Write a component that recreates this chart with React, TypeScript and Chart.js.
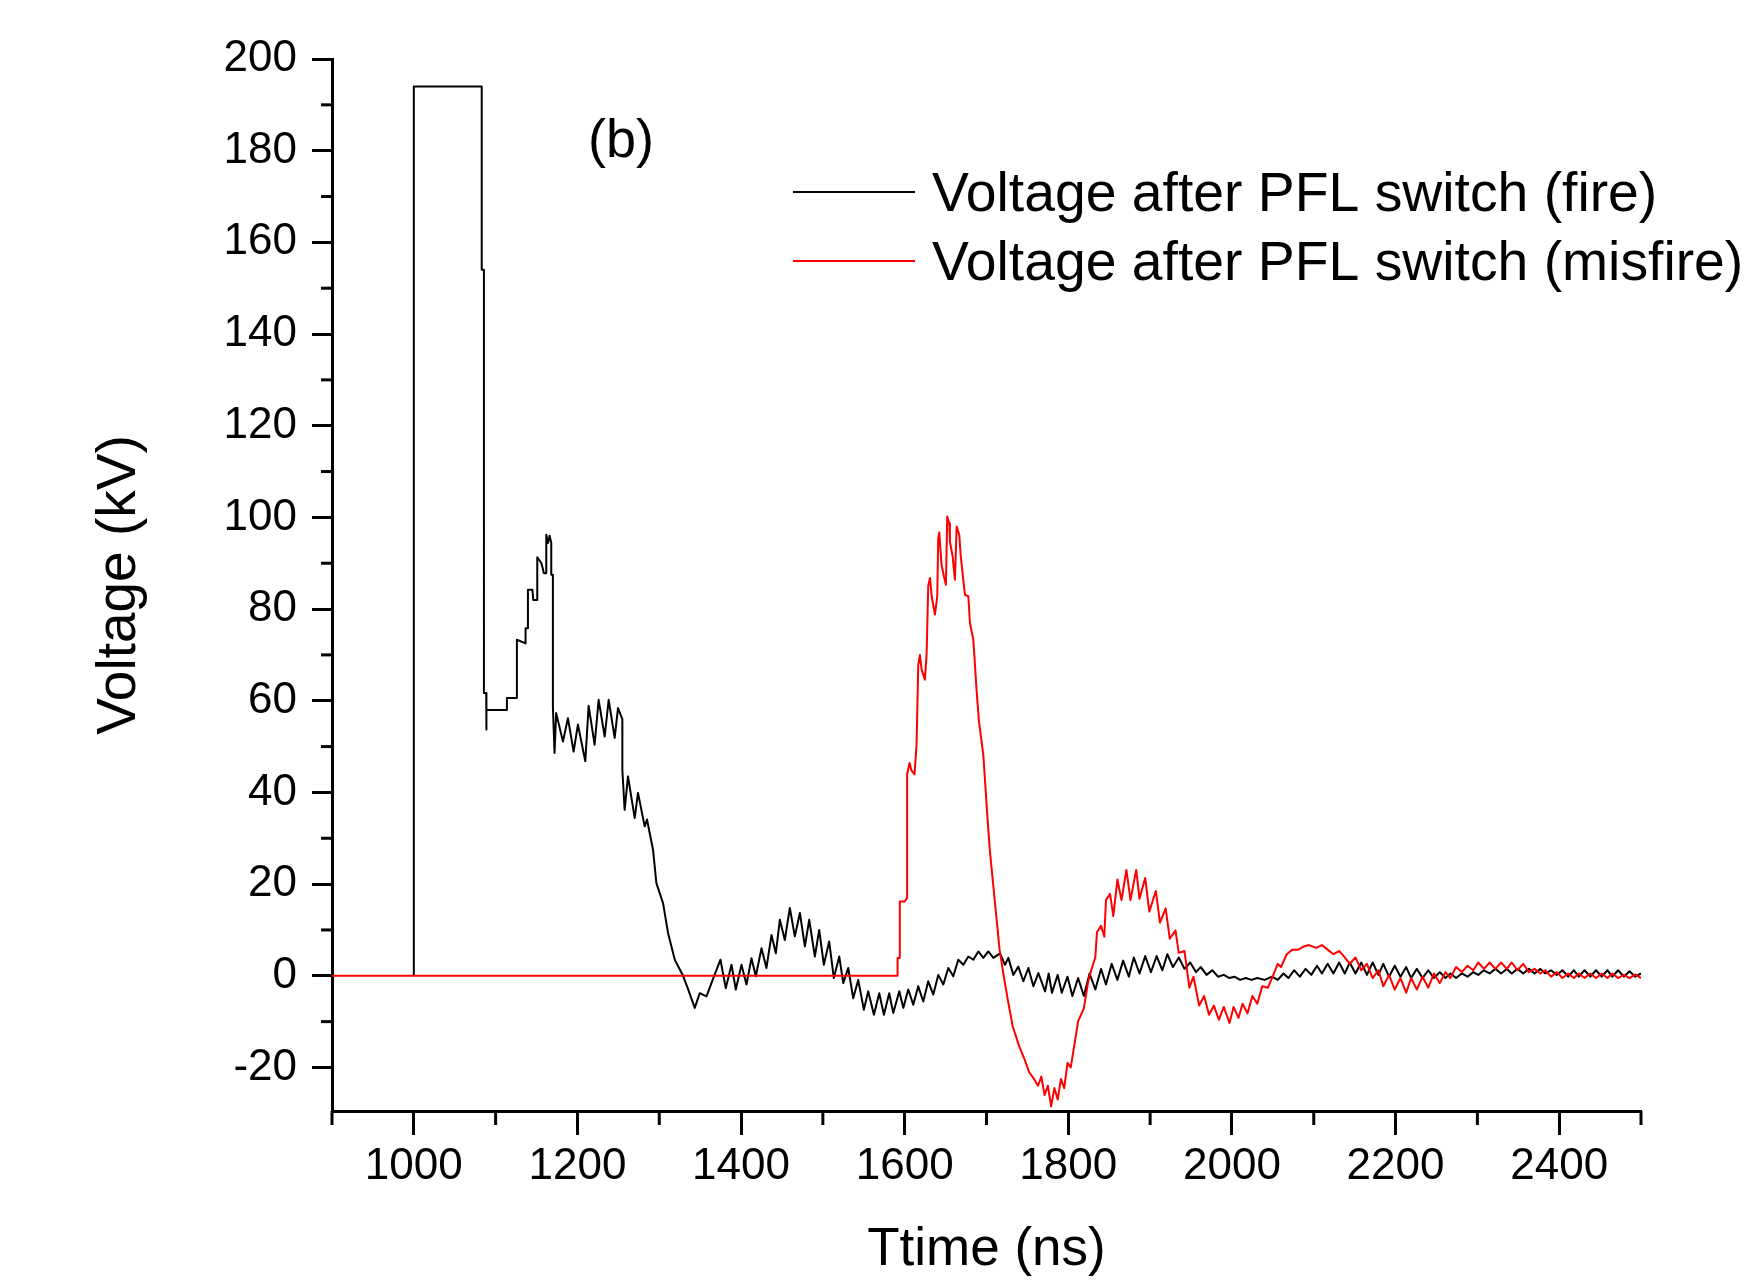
import React, { useEffect, useRef } from 'react';
import { Chart, registerables } from 'chart.js';

Chart.register(...registerables);

// ---- Data ----
const fireTime = [
  1000, 1000, 1083, 1083, 1085.7, 1085.7, 1088.5, 1088.5, 1089, 1113.8, 1113.8, 1126, 1126, 1136.6, 1136.6, 1139.5, 1139.5,
  1145, 1146, 1150.9, 1150.9, 1156, 1159, 1161.9, 1161.9, 1164, 1166, 1168, 1168, 1170, 1170, 1172, 1174, 1182.3, 1188.4,
  1195.3, 1200.6, 1209.6, 1213.7, 1221, 1225.9, 1233.3, 1238.2, 1245.5, 1249.6, 1254.9, 1254.9, 1257.7, 1261.8, 1270, 1274,
  1282.2, 1285, 1292.4, 1296.5, 1304.7, 1310.8, 1319, 1329.1, 1334, 1343.4, 1349.5, 1357.7, 1363.8, 1374.8, 1381.3, 1388.3,
  1393.6, 1400.5, 1406.6, 1412.7, 1418, 1425, 1431, 1437.2, 1442.5, 1447.4, 1453.5, 1459.6, 1465.7, 1471.9, 1478, 1483.3,
  1490.2, 1495.5, 1501.2, 1507.7, 1513.4, 1520, 1524.9, 1531, 1537.1, 1543.2, 1550.1, 1555.4, 1562.4, 1568.9, 1574.6, 1581.1,
  1586, 1593.4, 1598.3, 1604.4, 1610.5, 1616.6, 1622.7, 1628.8, 1635, 1641.1, 1647.2, 1653.3, 1659.4, 1665.5, 1671.7, 1677.8,
  1683.9, 1690, 1696.1, 1702.2, 1708.4, 1716.5, 1722.6, 1726.7, 1732.8, 1738.9, 1745, 1751.2, 1757.3, 1763.4, 1771.6, 1776,
  1780, 1787, 1792, 1799, 1805, 1812, 1819, 1826, 1833, 1840, 1846, 1853, 1860, 1867, 1874, 1880, 1887, 1894, 1901, 1908,
  1915, 1921, 1928, 1935, 1942, 1949, 1956, 1962, 1969, 1976, 1983, 1990, 1997, 2003, 2010, 2017, 2024, 2031, 2040, 2049,
  2056, 2063, 2069, 2076, 2083, 2090, 2097, 2104, 2110, 2117, 2124, 2131, 2138, 2144, 2151, 2158, 2165, 2172, 2179, 2185,
  2192, 2199, 2206, 2213, 2219, 2226, 2233, 2240, 2247, 2254, 2261, 2267, 2274, 2281, 2288, 2295, 2301, 2308, 2315, 2322,
  2329, 2336, 2342, 2349, 2356, 2363, 2370, 2377, 2383, 2390, 2397, 2404, 2411, 2418, 2424, 2431, 2438, 2445, 2452, 2459,
  2465, 2472, 2479, 2486, 2493, 2500,
];
const fireVolt = [
  0, 194, 194, 154, 154, 61.7, 61.7, 53.7, 58, 58, 60.6, 60.6, 73.3, 72.5, 75.8, 75.8, 84.2,
  84.2, 82, 82, 91.3, 90, 87.8, 87.8, 96.2, 94.4, 96, 94.4, 87.5, 87.5, 58.7, 48.6, 57.3, 51.1, 56.2,
  48.9, 54.8, 46.8, 58.9, 50.4, 60.2, 52.2, 60.2, 51.9, 58.4, 56, 44.9, 36.2, 43.5, 34.4, 39.9,
  32.6, 34.1, 27.5, 20.2, 15.8, 9.3, 3.5, 0, -2.3, -7.0, -3.8, -4.5, -1.6, 3.5, -2.7, 2.4,
  -3.0, 2.4, -1.9, 3.8, -0.1, 6.0, 1.7, 8.9, 4.9, 12.2, 7.8, 14.8, 8.6, 13.7, 6.4, 12.2,
  4.2, 10.0, 2.4, 7.5, -0.5, 4.2, -1.6, 1.7, -4.9, -0.9, -7.4, -3.4, -8.5, -3.8, -8.5, -3.8,
  -8.1, -3.4, -7.0, -3.0, -6.3, -2.3, -5.6, -1.2, -4.1, 0.2, -1.9, 1.7, -0.1, 3.5, 2.4, 4.2,
  3.5, 5.3, 3.9, 5.3, 3.9, 4.9, 2.4, 3.9, 0.2, 2.0, -1.2, 1.7, -2.3, 0.6, -3.4, 0.5,
  -3.7, 0.2, -3.7, -0.2, -4.4, -0.5, -4.4, 0.5, -3.0, 1.5, -1.9, 2.6, -0.9, 3.3, -0.2, 4.0, 0.5, 4.3, 0.8, 4.3,
  1.2, 4.7, 1.9, 4.0, 1.5, 2.9, 0.8, 1.9, 0.2, 1.2, -0.2, 0.2, -0.5, -0.2, -0.9, -0.5, -0.9, -0.5, -0.9, -0.2,
  -0.9, 0.5, -0.5, 1.2, -0.2, 1.5, 0.2, 2.2, 0.5, 2.6, 0.5, 2.9, 0.5, 2.9, 0.5, 2.9, 0.2, 2.9, 0.2, 2.6,
  -0.2, 2.2, -0.2, 1.9, -0.5, 1.5, -0.5, 1.2, -0.5, 0.8, -0.5, 0.5, -0.5, 0.5, -0.2, 0.8, 0.2, 1.2, 0.5, 1.5,
  0.5, 1.5, 0.5, 1.5, 0.5, 1.5, 0.5, 1.5, 0.5, 1.2, 0.2, 1.2, -0.2, 1.2, -0.2, 1.2, -0.2, 1.2, -0.2, 1.2,
  -0.2, 1.2, -0.2, 1.0, -0.2, 0.5,
];

const misfireTime = [
  900, 1591.3, 1591.3, 1594, 1594, 1600, 1603, 1603, 1606, 1608, 1612, 1614.5, 1616.6, 1618.6, 1620.7, 1624.7, 1626.8,
  1628.8, 1630.9, 1633, 1637, 1639.8, 1641, 1642.3, 1645, 1648, 1650.4, 1652, 1654.5, 1655.3, 1658.6, 1661.4, 1663.5,
  1666.7, 1668.4, 1671.6, 1673.7, 1677.8, 1679.8, 1683.9, 1686, 1688, 1690.8, 1693.2, 1696.1, 1698, 1701, 1704, 1708,
  1712, 1716, 1721, 1726, 1732, 1740, 1746, 1752, 1758, 1763, 1767, 1771, 1775, 1779, 1783, 1787, 1791, 1795, 1799, 1803,
  1808, 1812, 1819, 1824, 1828, 1833, 1835, 1840, 1844, 1846, 1851, 1855, 1860, 1865, 1871, 1876, 1883, 1887, 1894, 1899,
  1907, 1912, 1919, 1924, 1931, 1935, 1942, 1948, 1953, 1960, 1966, 1972, 1978, 1984, 1990, 1997, 2002, 2008, 2013, 2019,
  2025, 2031, 2037, 2044, 2049, 2056, 2060, 2067, 2074, 2081, 2088, 2094, 2103, 2110, 2117, 2124, 2131, 2138, 2144, 2151,
  2158, 2165, 2172, 2179, 2185, 2192, 2199, 2206, 2213, 2219, 2226, 2233, 2240, 2247, 2254, 2261, 2267, 2274, 2281, 2288,
  2295, 2301, 2308, 2315, 2322, 2329, 2336, 2342, 2349, 2356, 2363, 2370, 2377, 2383, 2390, 2397, 2404, 2411, 2418, 2424,
  2431, 2438, 2445, 2452, 2459, 2465, 2472, 2479, 2486, 2493, 2500,
];
const misfireVolt = [
  0, 0, 3.9, 3.9, 16.2, 16.2, 17, 44, 46.4, 44.9, 43.9, 50.4, 67.8, 70, 66.8, 64.6, 70.2,
  85.1, 86.8, 82.8, 78.8, 82.8, 95.5, 96.7, 89.7, 87.1, 85.3, 100.2, 98.7, 94.7, 91.5, 86.4, 98,
  96.2, 91.8, 86.4, 83.1, 82.8, 76.9, 73.3, 67.5, 62, 55.5, 52.2, 48.2, 43.1, 35, 27.5, 20.2,
  12.9, 5.7, 0, -5.2, -11, -15.4, -18, -21, -22.5, -24, -22, -26, -24, -28.5, -24.5, -27, -22.5, -24.5, -19, -20,
  -14.4, -9.9, -7.1, -1.6, 1.2, 4.0, 9.5, 10.9, 8.5, 16.5, 17.9, 13.0, 21.0, 16.5, 23.1, 16.5, 23.1, 16.8, 21.3, 14.0,
  18.5, 11.6, 14.7, 8.1, 9.9, 5.0, 5.4, -2.6, -0.2, -6.5, -4.4, -8.5, -6.5, -9.6, -6.8, -10.3, -6.8, -9.2, -6.1, -8.2,
  -4.4, -6.1, -2.3, -2.6, -0.5, 2.6, 1.9, 4.7, 5.7, 5.7, 6.4, 6.7, 6.1, 6.7, 5.7, 4.7, 5.4, 4.0, 2.6, 4.0,
  1.2, 2.6, -0.5, 1.2, -2.3, 0.2, -3.0, -0.5, -3.7, -0.5, -3.0, -0.2, -2.6, 0.5, -1.6, 0.8, -0.5, 1.9, 0.8, 2.2,
  1.2, 2.9, 1.5, 2.9, 1.5, 2.9, 1.5, 2.9, 1.2, 2.6, 0.8, 1.5, 0.5, 1.2, -0.2, 0.8, -0.5, 0.5, -0.5, 0.5,
  -0.5, 0.5, -0.5, 0.5, -0.5, 0.5, -0.5, 0.2, -0.5, 0.3, -0.5,
];

const xMajorTicks = [1000, 1200, 1400, 1600, 1800, 2000, 2200, 2400];
const xMinorTicks = [900, 1100, 1300, 1500, 1700, 1900, 2100, 2300, 2500];
const yMajorTicks = [-20, 0, 20, 40, 60, 80, 100, 120, 140, 160, 180, 200];
const yMinorTicks = [-10, 10, 30, 50, 70, 90, 110, 130, 150, 170, 190];
const seriesLabels = ['Voltage after PFL switch (fire)', 'Voltage after PFL switch (misfire)'];
const seriesColors = ['#000000', '#ff0000'];
const panelLabel = '(b)';
const xTitle = 'Ttime (ns)';
const yTitle = 'Voltage (kV)';

const FONT = '"Liberation Sans", Arial, sans-serif';

const decorPlugin = {
  id: 'decor',
  afterDraw(chart: any) {
    const { ctx, chartArea, scales } = chart;
    const xs = scales.x;
    const ys = scales.y;
    ctx.save();
    ctx.strokeStyle = '#000';
    ctx.lineWidth = 3;
    ctx.lineCap = 'butt';
    yMinorTicks.forEach((v) => {
      const py = ys.getPixelForValue(v);
      ctx.beginPath();
      ctx.moveTo(chartArea.left - 11, py);
      ctx.lineTo(chartArea.left, py);
      ctx.stroke();
    });
    xMinorTicks.forEach((v) => {
      const px = xs.getPixelForValue(v);
      ctx.beginPath();
      ctx.moveTo(px, chartArea.bottom);
      ctx.lineTo(px, chartArea.bottom + 14);
      ctx.stroke();
    });
    // panel label
    ctx.fillStyle = '#000';
    ctx.font = `54px ${FONT}`;
    ctx.textAlign = 'left';
    ctx.textBaseline = 'alphabetic';
    ctx.fillText(panelLabel, 588, 157);
    // legend
    ctx.font = `55.3px ${FONT}`;
    seriesLabels.forEach((lab, i) => {
      const ly = 192 + i * 69;
      ctx.strokeStyle = seriesColors[i];
      ctx.lineWidth = 2;
      ctx.beginPath();
      ctx.moveTo(793, ly);
      ctx.lineTo(915, ly);
      ctx.stroke();
      ctx.fillStyle = '#000';
      ctx.fillText(lab, 932, 211 + i * 69);
    });
    ctx.restore();
  },
};

export default function App() {
  const ref = useRef<HTMLCanvasElement | null>(null);
  useEffect(() => {
    if (!ref.current) return;
    Chart.defaults.font.family = FONT;
    const chart = new Chart(ref.current, {
      type: 'line',
      data: {
        datasets: [
          {
            label: seriesLabels[0],
            data: fireTime.map((t, i) => ({ x: t, y: fireVolt[i] })),
            borderColor: seriesColors[0],
            borderWidth: 2,
            pointRadius: 0,
            tension: 0,
            fill: false,
            borderJoinStyle: 'round',
            order: 1,
          },
          {
            label: seriesLabels[1],
            data: misfireTime.map((t, i) => ({ x: t, y: misfireVolt[i] })),
            borderColor: seriesColors[1],
            borderWidth: 2,
            pointRadius: 0,
            tension: 0,
            fill: false,
            borderJoinStyle: 'round',
            order: 0,
          },
        ],
      },
      options: {
        animation: false,
        responsive: false,
        devicePixelRatio: 1,
        events: [],
        layout: { padding: { top: 59, right: 111, bottom: 0, left: 0 } },
        plugins: { legend: { display: false }, tooltip: { enabled: false } },
        scales: {
          x: {
            type: 'linear',
            min: 900,
            max: 2500,
            afterBuildTicks: (s: any) => {
              s.ticks = xMajorTicks.map((v) => ({ value: v }));
            },
            afterFit: (s: any) => {
              s.height = 171;
            },
            ticks: {
              autoSkip: false,
              maxRotation: 0,
              padding: 5,
              color: '#000',
              font: { size: 44, family: FONT },
              callback: (v: any) => String(v),
            },
            grid: { drawOnChartArea: false, drawTicks: true, tickLength: 24, tickWidth: 3, tickColor: '#000' },
            border: { display: true, color: '#000', width: 3 },
            title: {
              display: true,
              text: xTitle,
              color: '#000',
              font: { size: 53, family: FONT },
              padding: { top: 0, bottom: 0 },
            },
          },
          y: {
            type: 'linear',
            min: -29.5,
            max: 200,
            afterBuildTicks: (s: any) => {
              s.ticks = yMajorTicks.map((v) => ({ value: v }));
            },
            afterFit: (s: any) => {
              s.width = 332;
            },
            ticks: {
              autoSkip: false,
              padding: 15,
              color: '#000',
              font: { size: 44, family: FONT },
              callback: (v: any) => String(v),
            },
            grid: { drawOnChartArea: false, drawTicks: true, tickLength: 20, tickWidth: 3, tickColor: '#000' },
            border: { display: true, color: '#000', width: 3 },
            title: {
              display: true,
              text: yTitle,
              color: '#000',
              font: { size: 55, family: FONT },
              padding: { top: 87, bottom: 0 },
            },
          },
        },
      },
      plugins: [decorPlugin],
    } as any);
    return () => chart.destroy();
  }, []);
  return (
    <div style={{ position: 'absolute', left: 0, top: 0, width: 1752, height: 1282, background: '#fff' }}>
      <canvas ref={ref} width={1752} height={1282} style={{ display: 'block' }} />
    </div>
  );
}
